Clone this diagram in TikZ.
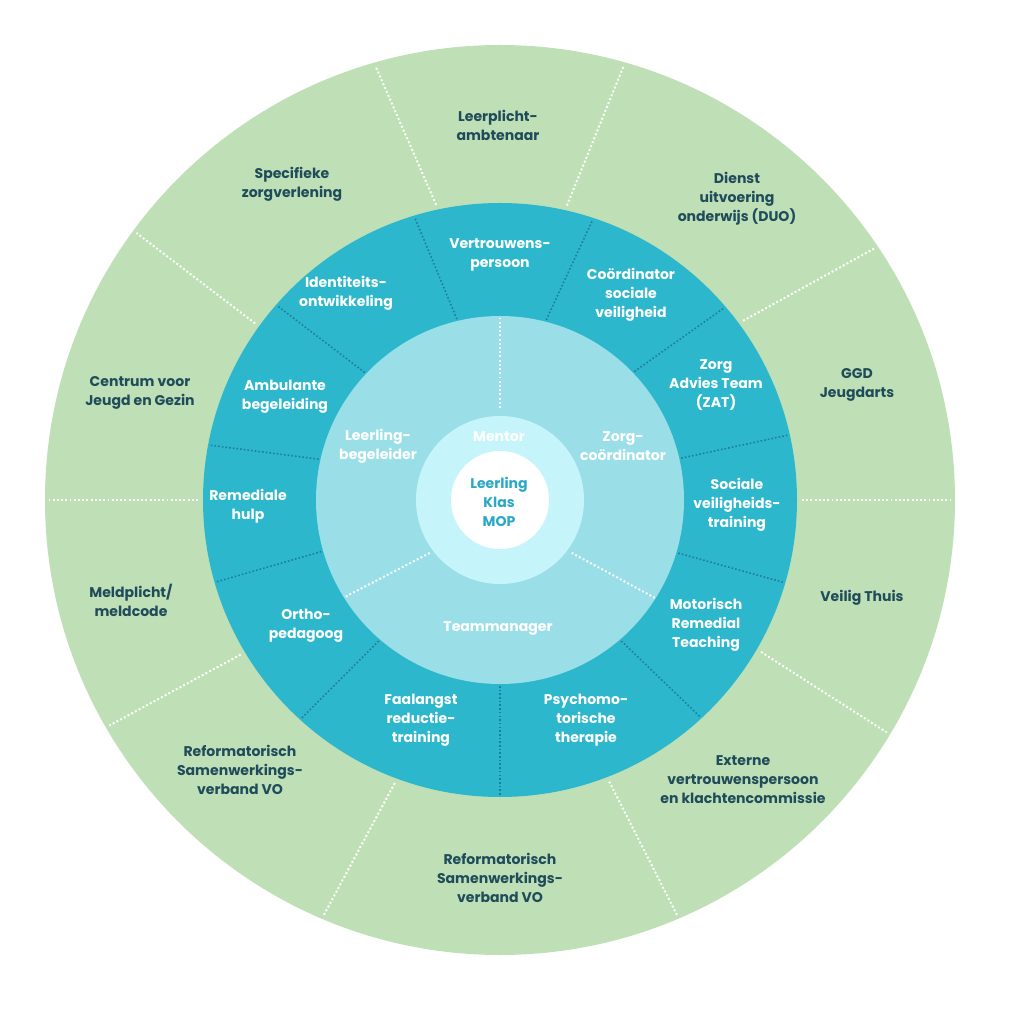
\documentclass[tikz,border=0pt]{standalone}
\usepackage{fontspec}
\setmainfont{Poppins}
\usetikzlibrary{positioning}

\definecolor{outergreen}{HTML}{BFE0B6}
\definecolor{ringteal}{HTML}{2DB7CC}
\definecolor{innerblue}{HTML}{9ADFE8}
\definecolor{mentorblue}{HTML}{C5F5FB}
\definecolor{darktext}{HTML}{1F4B5A}
\definecolor{centertext}{HTML}{2AA8C5}
\definecolor{ringdots}{HTML}{1F7D9C}

\tikzset{
	labelfont/.style	= {font=\bfseries\fontsize{8}{10.8}\selectfont, align=center, inner sep=0pt},
	outerlabel/.style	= {labelfont, text=darktext},
	ringlabel/.style	= {labelfont, text=white},
	centerlabel/.style	= {labelfont, text=centertext},
	whitedots/.style	= {white, line width=1.1pt, dash pattern=on 1.1pt off 1.3pt},
	tealdots/.style		= {ringdots, line width=0.9pt, dash pattern=on 0.9pt off 1.2pt}
}

\begin{document}
\begin{tikzpicture}[x=0.02cm, y=0.02cm]
	\useasboundingbox (-500,-524) rectangle (524,500);

	% rings
	\fill[outergreen]	(0,0) circle (455);
	\fill[ringteal]		(0,0) circle (297);
	\fill[innerblue]	(0,0) circle (184);
	\fill[mentorblue]	(0,0) circle (84);
	\fill[white]		(0,0) circle (49);

	% dividers
	\foreach \a/\b in {0/0, 36.4/33.9, 77.2/74.1, 102.2/106.0, 144.2/143.7,
		180/180, 210.8/210, 249.6/247, 291.2/293.1, 329.8/329}
		\draw[whitedots] (\a:302) -- (\b:451);
	\foreach \a/\b in {13/12.7, 43.7/40.6, 75.6/71.7, 103.4/106.8, 136.7/138.9,
		167.3/169.3, 196.1/196.1, 229.3/227.7, 270/270, 310.7/312.7, 343.4/343.8}
		\draw[tealdots] (\a:186) -- (\b:295);
	\draw[whitedots] (90:92) -- (90:183);
	\draw[whitedots] (217:88) -- (212:183);
	\draw[whitedots] (-36.4:89) -- (-32.3:183);

	% outer ring
	\node[outerlabel]	(lpa)	at (-2,375)	{Leerplicht-\\ambtenaar};
	\node[outerlabel]	(duo)	at (237,301)	{Dienst\\uitvoering\\onderwijs (DUO)};
	\node[outerlabel]	(ggd)	at (357,115)	{GGD\\Jeugdarts};
	\node[outerlabel]	(vt)	at (362,-98)	{Veilig Thuis};
	\node[outerlabel]	(evp)	at (243,-280)	{Externe\\vertrouwenspersoon\\en klachtencommissie};
	\node[outerlabel]	(rsv1)	at (0,-378)	{Reformatorisch\\Samenwerkings-\\verband VO};
	\node[outerlabel]	(rsv2)	at (-260,-270)	{Reformatorisch\\Samenwerkings-\\verband VO};
	\node[outerlabel]	(mpl)	at (-369,-100)	{Meldplicht/\\meldcode};
	\node[outerlabel]	(cjg)	at (-360,107)	{Centrum voor\\Jeugd en Gezin};
	\node[outerlabel]	(spz)	at (-208,316)	{Specifieke\\zorgverlening};

	% middle ring
	\node[ringlabel]	(vtp)	at (0,245)	{Vertrouwens-\\persoon};
	\node[ringlabel]	(csv)	at (131,205)	{Coördinator\\sociale\\veiligheid};
	\node[ringlabel]	(zat)	at (216,115)	{Zorg\\Advies Team\\(ZAT)};
	\node[ringlabel]	(svt)	at (237,-5)	{Sociale\\veiligheids-\\training};
	\node[ringlabel]	(mrt)	at (206,-125)	{Motorisch\\Remedial\\Teaching};
	\node[ringlabel]	(pmt)	at (86,-220)	{Psychomo-\\torische\\therapie};
	\node[ringlabel]	(frt)	at (-79,-220)	{Faalangst\\reductie-\\training};
	\node[ringlabel]	(orp)	at (-194,-126)	{Ortho-\\pedagoog};
	\node[ringlabel]	(rmh)	at (-252,-6)	{Remediale\\hulp};
	\node[ringlabel]	(amb)	at (-215,103)	{Ambulante\\begeleiding};
	\node[ringlabel]	(ido)	at (-154,207)	{Identiteits-\\ontwikkeling};

	% inner circle
	\node[ringlabel]	(llb)	at (-122,54)	{Leerling-\\begeleider};
	\node[ringlabel]	(zco)	at (123,54)	{Zorg-\\coördinator};
	\node[ringlabel]	(tm)	at (-2,-128)	{Teammanager};
	\node[ringlabel]	(mtr)	at (-1,63)	{Mentor};
	\node[centerlabel]	(lkm)	at (-1,-2)	{Leerling\\Klas\\MOP};

\end{tikzpicture}
\end{document}
